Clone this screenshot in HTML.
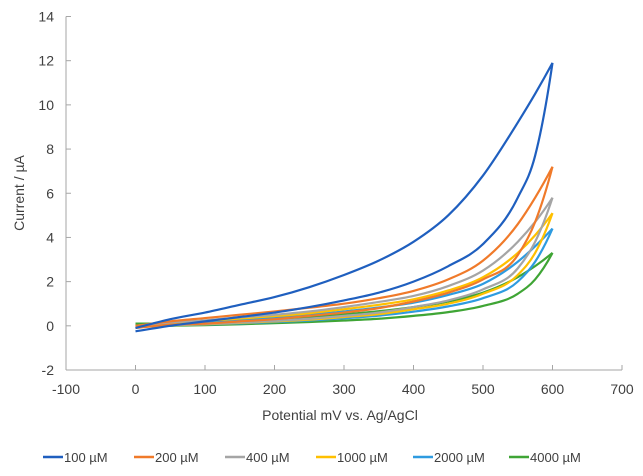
<!DOCTYPE html>
<html><head><meta charset="utf-8"><style>
body{margin:0;background:#fff;}
svg{font-family:"Liberation Sans",sans-serif;}
</style></head><body>
<svg id="chart" width="643" height="471">
<g id="axes"></g><g id="series"></g><g id="legend"></g>
<text x="340" y="420" font-size="14" text-anchor="middle" fill="#404040">Potential mV vs. Ag/AgCl</text>
<text transform="translate(24,193) rotate(-90)" font-size="14" text-anchor="middle" fill="#404040">Current / µA</text>
</svg>
<script>
const potentials=[0,50,100,150,200,250,300,350,400,450,500,550,575,600];
const seriesNames=["100 µM","200 µM","400 µM","1000 µM","2000 µM","4000 µM"];
const seriesColors=["#1f5fbf","#f07a2a","#a5a5a5","#ffc000","#2e9be0","#3fa535"];
const upper100=[-0.1,0.3,0.6,0.95,1.3,1.75,2.3,2.95,3.8,5.0,6.8,9.2,10.5,11.9];
const lower100=[-0.25,0,0.2,0.4,0.6,0.85,1.15,1.5,2.0,2.7,3.7,5.8,7.7,11.9];
const upper200=[0,0.2,0.35,0.5,0.65,0.82,1.0,1.25,1.58,2.1,2.95,4.6,5.8,7.2];
const lower200=[-0.1,0.05,0.1,0.2,0.3,0.45,0.6,0.8,1.1,1.5,2.1,3.2,4.7,7.2];
const upper400=[0,0.15,0.25,0.38,0.5,0.65,0.85,1.08,1.35,1.8,2.5,3.8,4.7,5.8];
const lower400=[-0.05,0.02,0.08,0.15,0.22,0.32,0.45,0.6,0.85,1.15,1.65,2.6,3.8,5.8];
const upper1000=[0,0.12,0.22,0.33,0.44,0.57,0.75,0.95,1.2,1.6,2.2,3.3,4.1,5.1];
const lower1000=[-0.05,0.02,0.07,0.13,0.2,0.28,0.4,0.53,0.75,1.0,1.45,2.3,3.3,5.1];
const upper2000=[0,0.1,0.18,0.28,0.38,0.5,0.65,0.83,1.05,1.4,1.9,2.9,3.6,4.4];
const lower2000=[-0.05,0.02,0.06,0.11,0.17,0.24,0.34,0.46,0.64,0.88,1.25,2.0,2.9,4.4];
const upper4000=[0.1,0.1,0.15,0.22,0.3,0.4,0.52,0.66,0.85,1.1,1.5,2.2,2.7,3.3];
const lower4000=[-0.05,0,0.03,0.07,0.12,0.17,0.24,0.32,0.45,0.62,0.9,1.45,2.1,3.3];
const xTicks=[-100,0,100,200,300,400,500,600,700];
const yTicks=[-2,0,2,4,6,8,10,12,14];
const uppers=[upper100,upper200,upper400,upper1000,upper2000,upper4000];
const lowers=[lower100,lower200,lower400,lower1000,lower2000,lower4000];
const NS="http://www.w3.org/2000/svg";
const X0=66,X1=622,Y0=370,Y1=16.5;
const sx=v=>X0+(v+100)/800*(X1-X0);
const sy=v=>Y0-(v+2)/16*(Y0-Y1);
function mk(t,a,p){const e=document.createElementNS(NS,t);for(const k in a)e.setAttribute(k,a[k]);p.appendChild(e);return e;}
const ax=document.getElementById('axes');
let yl=mk('line',{x1:X0,y1:Y1,x2:X0,y2:Y0,stroke:'#a6a6a6'},ax);

let xl=mk('line',{x1:X0,y1:Y0,x2:X1,y2:Y0,stroke:'#a6a6a6'},ax);

yTicks.forEach(v=>{mk('line',{x1:X0,y1:sy(v),x2:X0+5,y2:sy(v),stroke:'#a6a6a6'},ax);
 const t=mk('text',{x:X0-12,y:sy(v)+5,'font-size':14,'text-anchor':'end',fill:'#404040'},ax);t.textContent=v;
 });
xTicks.forEach(v=>{mk('line',{x1:sx(v),y1:Y0,x2:sx(v),y2:Y0-5,stroke:'#a6a6a6'},ax);
 const t=mk('text',{x:sx(v),y:Y0+24,'font-size':14,'text-anchor':'middle',fill:'#404040'},ax);t.textContent=v;
 });
// smooth function-of-x curve with nonuniform spacing (cubic Hermite)
function smooth(pts){const n=pts.length,m=[];
 for(let i=0;i<n;i++){
  if(i===0)m.push((pts[1][1]-pts[0][1])/(pts[1][0]-pts[0][0]));
  else if(i===n-1){const a=(pts[n-1][1]-pts[n-2][1])/(pts[n-1][0]-pts[n-2][0]);const b=(pts[n-2][1]-pts[n-3][1])/(pts[n-2][0]-pts[n-3][0]);m.push(a+(a-b)*0.5);}
  else{const h0=pts[i][0]-pts[i-1][0],h1=pts[i+1][0]-pts[i][0];
   const d0=(pts[i][1]-pts[i-1][1])/h0,d1=(pts[i+1][1]-pts[i][1])/h1;
   m.push((d0*h1+d1*h0)/(h0+h1));}
 }
 let d=`M${pts[0][0]},${pts[0][1]}`;
 for(let i=0;i<n-1;i++){const h=(pts[i+1][0]-pts[i][0])/3;
  d+=` C${pts[i][0]+h},${pts[i][1]+m[i]*h} ${pts[i+1][0]-h},${pts[i+1][1]-m[i+1]*h} ${pts[i+1][0]},${pts[i+1][1]}`;}
 return d;}
const sg=document.getElementById('series');
for(let s=5;s>=0;s--){
 const up=potentials.map((v,i)=>[sx(v),sy(uppers[s][i])]);
 const lo=potentials.map((v,i)=>[sx(v),sy(lowers[s][i])]);
 const p1=mk('path',{d:smooth(up),fill:'none',stroke:seriesColors[s],'stroke-width':2.2},sg);
 
 
 const p2=mk('path',{d:smooth(lo),fill:'none',stroke:seriesColors[s],'stroke-width':2.2},sg);
 
 
}
const lg=document.getElementById('legend');
const lx=[43,134,225,316,413,509];
seriesNames.forEach((n,i)=>{const g=mk('g',{},lg);
 
 mk('line',{x1:lx[i],y1:457,x2:lx[i]+20,y2:457,stroke:seriesColors[i],'stroke-width':2.5},g);
 const t=mk('text',{x:lx[i]+21,y:462,'font-size':13,fill:'#404040'},g);t.textContent=n;});
</script>
</body></html>
